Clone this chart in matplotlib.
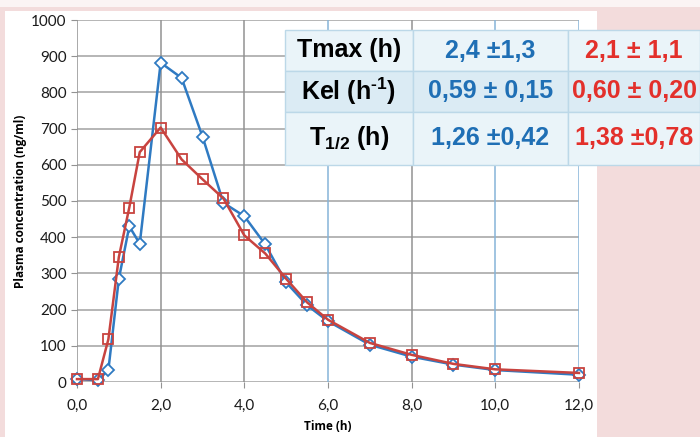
import matplotlib
matplotlib.use("Agg")
import matplotlib.pyplot as plt
from matplotlib.patches import Rectangle

# data
time_h = [0, 0.5, 0.75, 1.0, 1.25, 1.5, 2, 2.5, 3, 3.5, 4, 4.5, 5, 5.5, 6, 7, 8, 9, 10, 12]
blue_conc = [8, 5, 33, 285, 430, 382, 882, 840, 678, 495, 458, 380, 275, 212, 168, 103, 70, 48, 33, 20]
red_conc = [8, 8, 118, 345, 482, 635, 703, 615, 560, 507, 405, 355, 285, 220, 172, 108, 75, 50, 35, 25]

xticks = [0, 2, 4, 6, 8, 10, 12]
yticks = [0, 100, 200, 300, 400, 500, 600, 700, 800, 900, 1000]

row_labels = ["Tmax (h)", r"Kel (h$^{\text{-1}}$)", r"T$_{\text{1/2}}$ (h)"]
blue_params = ["2,4 \u00b11,3", "0,59 \u00b1 0,15", "1,26 \u00b10,42"]
red_params = ["2,1 \u00b1 1,1", "0,60 \u00b1 0,20", "1,38 \u00b10,78"]

BLUE = "#2f7ac2"
RED = "#c8433f"
PINK = "#f3dcdc"

plt.rcParams["mathtext.fontset"] = "custom"
plt.rcParams["mathtext.rm"] = "Liberation Sans:bold"
plt.rcParams["mathtext.bf"] = "Liberation Sans:bold"

W, H = 700, 437
fig = plt.figure(figsize=(7, 4.37), dpi=100, facecolor=PINK)

# white panel behind the chart
fig.patches.append(Rectangle((0, 1 - 7 / H), 1, 7 / H, transform=fig.transFigure,
                             facecolor="#fbf4f4", edgecolor="none", zorder=-2))
fig.patches.append(Rectangle((5 / W, 0), 592 / W, 1 - 11 / H, transform=fig.transFigure,
                             facecolor="white", edgecolor="none", zorder=-2))

ax = fig.add_axes([77 / W, 1 - 382 / H, 502 / W, 362 / H])
ax.set_facecolor("none")
ax.set_zorder(1)

# grid
for y in yticks:
    ax.axhline(y, color="#a2a2a2", lw=1.1, zorder=1)
for x in xticks:
    c = "#86b4d8" if x in (6, 10, 12) else "#929292"
    ax.axvline(x, color=c, lw=1.1, zorder=1)

ax.plot(time_h, blue_conc, color=BLUE, lw=1.8, marker="D", ms=6.5,
        mfc="white", mec=BLUE, mew=1.3, zorder=3, clip_on=False)
ax.plot(time_h, red_conc, color=RED, lw=1.8, marker="s", ms=7,
        mfc="none", mec=RED, mew=1.3, zorder=4, clip_on=False)

ax.set_xlim(0, 12)
ax.set_ylim(0, 1000)
ax.set_xticks(xticks)
ax.set_xticklabels([f"{x:.1f}".replace(".", ",") for x in xticks])
ax.set_yticks(yticks)
for s in ax.spines.values():
    s.set_visible(False)
ax.tick_params(axis="both", length=4, color="#929292", labelsize=11, labelcolor="#1a1a1a")
ax.tick_params(axis="x", pad=8)
for lab in ax.get_xticklabels() + ax.get_yticklabels():
    lab.set_family("Lato")

ax.set_xlabel("Time (h)", fontsize=8.5, fontweight="bold", family="Open Sans", labelpad=5)
ax.set_ylabel("Plasma concentration (ng/ml)", fontsize=8.5, fontweight="bold",
              family="Open Sans", labelpad=3)

# parameter table
col_edges = [285, 413, 568, 700]
row_edges = [30, 71, 112, 165]
row_fill = ["#eaf4f9", "#dbebf4", "#eaf4f9"]
font = dict(family="Liberation Sans", fontweight="bold",
            fontsize=18, ha="center", va="center")
for i in range(3):
    y0, y1 = row_edges[i], row_edges[i + 1]
    for j in range(3):
        x0, x1 = col_edges[j], col_edges[j + 1]
        fig.patches.append(Rectangle((x0 / W, 1 - y1 / H), (x1 - x0) / W, (y1 - y0) / H,
                                     transform=fig.transFigure, facecolor=row_fill[i],
                                     edgecolor="#bcd8e8", lw=1, zorder=5))
    yc = 1 - (y0 + y1) / 2 / H
    fig.text((col_edges[0] + col_edges[1]) / 2 / W, yc, row_labels[i], color="black",
             zorder=6, **font)
    fig.text((col_edges[1] + col_edges[2]) / 2 / W, yc, blue_params[i], color="#1f6fb5",
             zorder=6, **font)
    fig.text((col_edges[2] + col_edges[3]) / 2 / W, yc, red_params[i], color="#e3302b",
             zorder=6, **font)

fig.savefig("out.png", dpi=100, facecolor=PINK)
